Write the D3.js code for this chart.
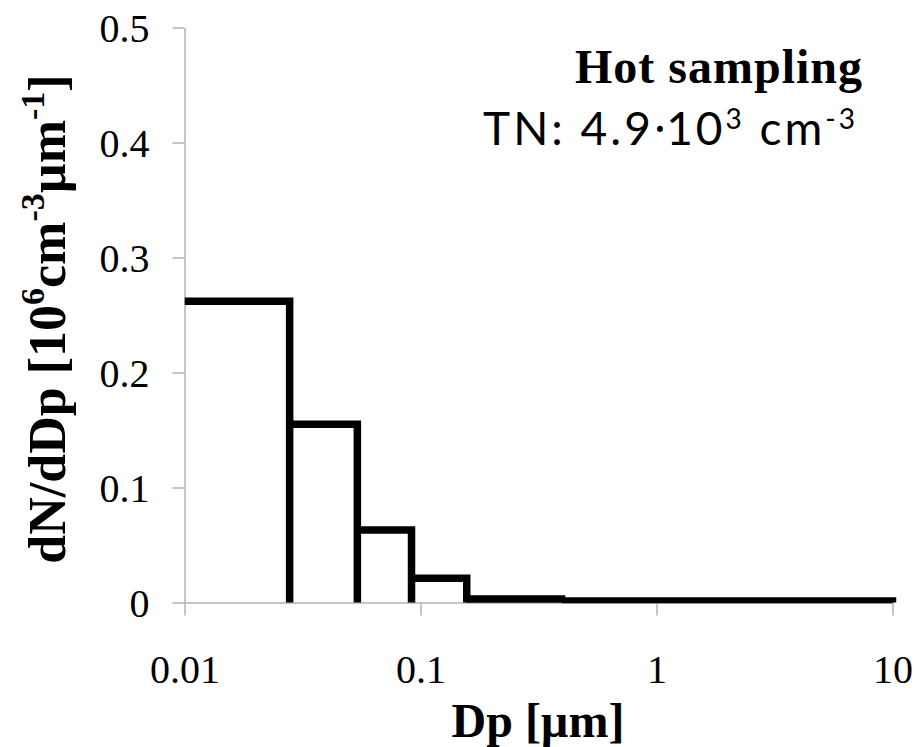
<!DOCTYPE html>
<html><head><meta charset="utf-8">
<script src="https://cdn.jsdelivr.net/npm/d3@7"></script>
<style>body{margin:0;background:#fff}</style></head>
<body><svg id="c" width="914" height="747"></svg>
<script>
const binEdges = [0.01, 0.0279, 0.054, 0.0916, 0.157, 0.396, 10];
const binValues = [0.262, 0.155, 0.063, 0.021, 0.003, 0.0013];
const xTicks = [0.01, 0.1, 1, 10];
const xTickLabels = ["0.01", "0.1", "1", "10"];
const yTicks = [0, 0.1, 0.2, 0.3, 0.4, 0.5];
const yTickLabels = ["0", "0.1", "0.2", "0.3", "0.4", "0.5"];

const svg = d3.select("#c");
const x = d3.scaleLog().domain([0.01, 10]).range([184.5, 892.5]);
const y = d3.scaleLinear().domain([0, 0.5]).range([602.5, 27.5]);
const serif = "'Liberation Serif', 'Times New Roman', serif";
const grey = "#b3b3b3";

// axes
const gx = svg.append("g").attr("transform", `translate(0,${y(0)})`)
  .call(d3.axisBottom(x).tickValues(xTicks).tickFormat((d, i) => xTickLabels[i]).tickSizeInner(13).tickSizeOuter(0));
const gy = svg.append("g").attr("transform", `translate(${x(0.01)},0)`)
  .call(d3.axisLeft(y).tickValues(yTicks).tickFormat((d, i) => yTickLabels[i]).tickSizeInner(12).tickSizeOuter(0));
[gx, gy].forEach(g => {
  g.select(".domain").attr("stroke", grey).attr("stroke-width", 1.5);
  g.selectAll(".tick line").attr("stroke", grey).attr("stroke-width", 1.5);
  g.selectAll(".tick text").attr("fill", "#000").style("font-family", serif).style("font-size", "40px");
});
gx.selectAll(".tick text").attr("y", 80).attr("dy", 0);
gy.selectAll(".tick text").attr("x", -35).attr("dy", "0.34em");

// clip
svg.append("clipPath").attr("id", "plot").append("rect")
  .attr("x", x(0.01)).attr("y", y(0.5) - 10).attr("width", x(10) - x(0.01) + 6).attr("height", y(0) - y(0.5) + 10.8);

// step bins
const bins = binValues.map((v, i) => ({x0: binEdges[i], x1: binEdges[i + 1], v}));
const g = svg.append("g").attr("clip-path", "url(#plot)");
g.selectAll("path.bin").data(bins).join("path").attr("class", "bin")
  .attr("d", d => `M${x(d.x0)},${y(d.v)}H${x(d.x1)}V${y(0)}`)
  .attr("fill", "none").attr("stroke", "#000").attr("stroke-width", 7.5)
  .attr("stroke-linejoin", "miter").attr("stroke-linecap", "butt");

// axis titles
svg.append("text").attr("x", 538).attr("y", 737).attr("text-anchor", "middle")
  .style("font-family", serif).style("font-size", "48px").style("font-weight", "bold")
  .text("Dp [µm]");

const yt = svg.append("text").attr("transform", "translate(65,319) rotate(-90)").attr("text-anchor", "middle")
  .style("font-family", serif).style("font-size", "52px").style("font-weight", "bold");
yt.append("tspan").text("dN/dDp [10");
yt.append("tspan").attr("dy", -21).style("font-size", "34px").text("6");
yt.append("tspan").attr("dy", 21).text("cm");
yt.append("tspan").attr("dy", -21).style("font-size", "34px").text("-3");
yt.append("tspan").attr("dy", 21).text("µm");
yt.append("tspan").attr("dy", -21).style("font-size", "34px").text("-1");
yt.append("tspan").attr("dy", 21).text("]");

// annotations
svg.append("text").attr("x", 863).attr("y", 83).attr("text-anchor", "end")
  .style("font-family", serif).style("font-size", "48px").style("font-weight", "bold")
  .style("letter-spacing", "1px")
  .text("Hot sampling");

const tn = svg.append("text").attr("x", 858).attr("y", 145).attr("text-anchor", "end")
  .style("font-family", "Lato, 'Noto Sans', sans-serif").style("font-size", "46px").style("letter-spacing", "3px");
tn.append("tspan").text("TN: 4.9");
tn.append("tspan").style("font-family", "'Noto Sans', sans-serif").style("letter-spacing", "0px").text("·");
tn.append("tspan").text("10");
tn.append("tspan").attr("dy", -16).style("font-size", "28px").text("3");
tn.append("tspan").attr("dy", 16).text(" cm");
tn.append("tspan").attr("dy", -16).style("font-size", "28px").text("-3");
</script>
</body></html>
